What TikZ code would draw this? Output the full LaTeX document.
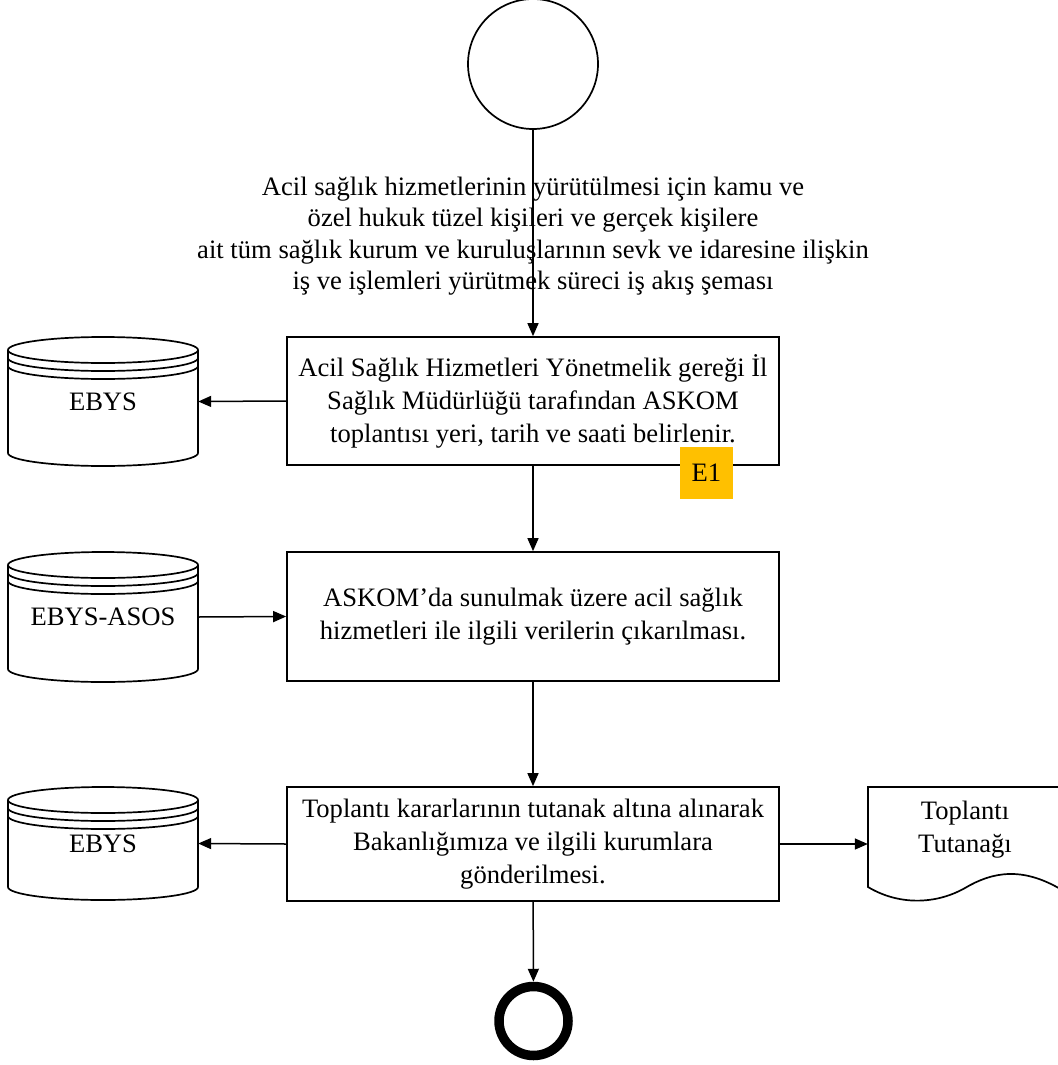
\documentclass[tikz,border=0pt]{standalone}
\usepackage{fontspec}
\setmainfont{Liberation Serif}
\usetikzlibrary{arrows.meta}
\definecolor{eone}{HTML}{FFC000}
\newcommand{\dbcyl}[5]{% name, x-left, top, bottom, text
  \pgfmathsetmacro{\cxl}{#2}\pgfmathsetmacro{\cxr}{#2+190}
  \pgfmathsetmacro{\cya}{#3+13}\pgfmathsetmacro{\cyb}{#4-13}
  \pgfmathsetmacro{\cyc}{#3+21}\pgfmathsetmacro{\cyd}{#3+29}
  \filldraw[cylline, fill=white] (\cxl,\cya) -- (\cxl,\cyb) arc[start angle=180, end angle=360, x radius=95pt, y radius=13pt] -- (\cxr,\cya);
  \filldraw[cylline, fill=white] (#2+95,\cya) ellipse [x radius=95pt, y radius=13pt];
  \draw[cylline] (\cxl,\cyc) arc[start angle=180, end angle=360, x radius=95pt, y radius=13pt];
  \draw[cylline] (\cxl,\cyd) arc[start angle=180, end angle=360, x radius=95pt, y radius=13pt];
  \node[minimum width=190pt, minimum height={#4-#3}, inner sep=0pt, font=\mainfs] (#1) at (#2+95,{(#3+#4)/2}) {#5};
}
\newcommand{\mainfs}{\fontsize{26.6}{33}\selectfont}
\begin{document}
\begin{tikzpicture}[x=1pt,y=-1pt,
  cylline/.style={line width=1.7pt},
  proc/.style={draw, line width=1.7pt, minimum width=492pt, align=center, inner sep=0pt, font=\mainfs},
  conn/.style={line width=1.5pt, -{Triangle[length=13pt,width=11pt]}}]
\useasboundingbox (0,0) rectangle (1057,1065);
\fill[white] (0,0) rectangle (1057,1065);

% start
\node[draw, circle, line width=1.7pt, minimum size=130pt, inner sep=0pt] (start) at (533,64) {};

% process boxes
\node[proc, minimum height=128pt] (b1) at (533,401) {Acil Sağlık Hizmetleri Yönetmelik gereği İl\\Sağlık Müdürlüğü tarafından ASKOM\\toplantısı yeri, tarih ve saati belirlenir.};
\node[proc, minimum height=129pt] (b2) at (533,616.5) {ASKOM’da sunulmak üzere acil sağlık\\hizmetleri ile ilgili verilerin çıkarılması.};
\node[proc, minimum height=114pt] (b3) at (533,844) {Toplantı kararlarının tutanak altına alınarak\\Bakanlığımıza ve ilgili kurumlara\\gönderilmesi.};

% connector from start (drawn before title so the title sits over the line)
\draw[conn] (start) -- (b1);
\node[align=center, font=\fontsize{26.6}{31.5}\selectfont, inner sep=0pt] (title) at (533,236) {Acil sağlık hizmetlerinin yürütülmesi için kamu ve\\özel hukuk tüzel kişileri ve gerçek kişilere\\ait tüm sağlık kurum ve kuruluşlarının sevk ve idaresine ilişkin\\iş ve işlemleri yürütmek süreci iş akış şeması};

% E1
\node[fill=eone, minimum width=53pt, minimum height=52pt, inner sep=0pt, font=\mainfs] (e1) at (706.5,473) {E1};

% databases
\dbcyl{c1}{8}{337}{466}{EBYS}
\dbcyl{c2}{8}{552}{682}{EBYS-ASOS}
\dbcyl{c3}{8}{787}{900}{EBYS}

% document
\draw[line width=1.7pt, fill=white] (1062,787) -- (868,787) -- (868,887) .. controls (898,905) and (935,905) .. (965,888) .. controls (992,872) and (1022,866) .. (1062,890);
\node[align=center, font=\mainfs, inner sep=0pt, minimum width=194pt] (doc) at (965,830) {Toplantı\\Tutanağı};

% end
\node[draw, circle, line width=9.5pt, minimum size=69pt, inner sep=0pt] (end) at (533.5,1021) {};

\draw[conn] (b1) -- (b2);
\draw[conn] (b2) -- (b3);
\draw[conn] (b3) -- (end);
\draw[conn] (b1.west) -- (c1.east);
\draw[conn] (c2.east) -- (b2.west);
\draw[conn] (b3.west) -- (c3.east);
\draw[conn] (b3.east) -- (b3.east -| doc.west);
\end{tikzpicture}
\end{document}
